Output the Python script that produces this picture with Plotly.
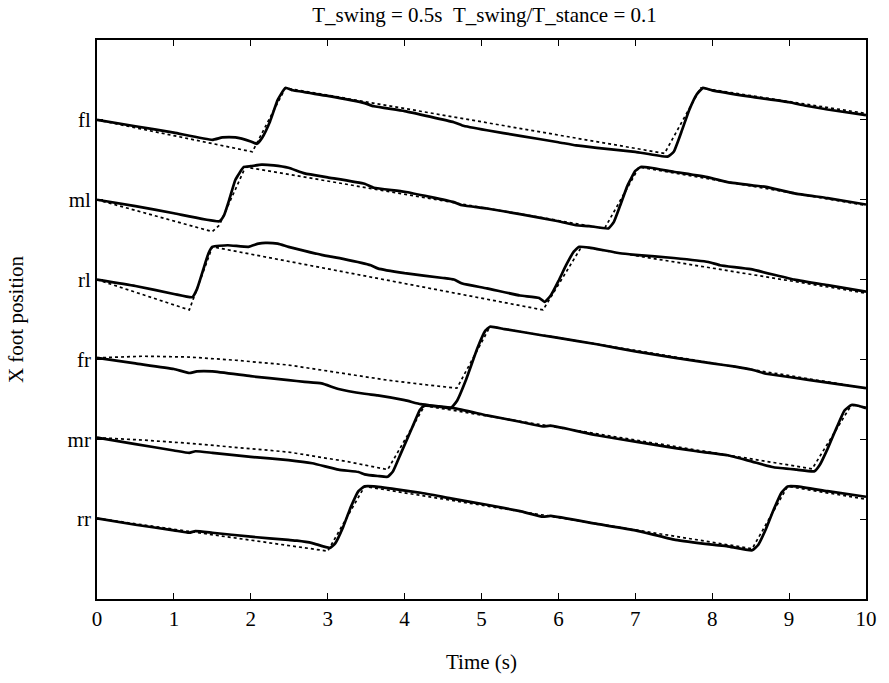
import plotly.graph_objects as go

# ---------------- data (time in s, X foot position in stacked units) ----------------
leg_names = ["fl", "ml", "rl", "fr", "mr", "rr"]
leg_levels = [6, 5, 4, 3, 2, 1]
x_ticks = [0, 1, 2, 3, 4, 5, 6, 7, 8, 9, 10]

# measured (solid) foot positions
fl_t = [0, 0.5, 1.0, 1.5, 1.63, 1.8, 2.0, 2.08, 2.15, 2.25, 2.35, 2.45, 2.55, 3.0, 3.48, 3.6, 4.0,
        4.64, 4.75, 5.07, 5.5, 6.0, 6.23, 6.5, 7.0, 7.42, 7.5, 7.6, 7.7, 7.8, 7.88, 8.0, 8.5, 9.0,
        9.2, 9.5, 10.0]
fl_v = [6.0, 5.92, 5.84, 5.75, 5.78, 5.78, 5.73, 5.70, 5.78, 5.98, 6.25, 6.40, 6.37, 6.30, 6.21,
        6.17, 6.11, 5.97, 5.93, 5.87, 5.80, 5.72, 5.68, 5.65, 5.60, 5.54, 5.60, 5.85, 6.12, 6.32,
        6.40, 6.37, 6.29, 6.22, 6.18, 6.13, 6.06]

ml_t = [0, 0.5, 1.0, 1.59, 1.65, 1.72, 1.8, 1.91, 2.0, 2.14, 2.3, 2.49, 2.7, 3.0, 3.48, 3.6, 4.0,
        4.64, 4.75, 5.07, 5.5, 6.0, 6.23, 6.4, 6.65, 6.72, 6.8, 6.9, 7.0, 7.07, 7.2, 7.5, 7.95,
        8.2, 8.52, 8.7, 9.07, 9.5, 10.0]
ml_v = [5.0, 4.92, 4.83, 4.73, 4.80, 5.0, 5.25, 5.41, 5.42, 5.44, 5.43, 5.40, 5.33, 5.28, 5.20,
        5.15, 5.10, 4.97, 4.93, 4.89, 4.82, 4.73, 4.68, 4.67, 4.64, 4.72, 4.92, 5.18, 5.36, 5.41,
        5.40, 5.35, 5.28, 5.22, 5.18, 5.16, 5.08, 5.02, 4.94]

rl_t = [0, 0.5, 1.0, 1.24, 1.3, 1.38, 1.45, 1.5, 1.7, 1.97, 2.1, 2.19, 2.35, 2.49, 2.7, 2.92, 3.2,
        3.56, 3.65, 4.0, 4.5, 4.64, 4.75, 5.07, 5.5, 5.75, 5.82, 5.9, 6.0, 6.1, 6.2, 6.27, 6.4,
        6.8, 7.0, 7.5, 7.95, 8.1, 8.5, 9.07, 9.5, 10.0]
rl_v = [4.0, 3.92, 3.82, 3.78, 3.88, 4.12, 4.33, 4.41, 4.43, 4.41, 4.45, 4.46, 4.45, 4.41, 4.36,
        4.31, 4.26, 4.18, 4.14, 4.08, 4.02, 4.0, 3.95, 3.89, 3.80, 3.77, 3.72, 3.80, 3.98, 4.18,
        4.35, 4.41, 4.40, 4.33, 4.31, 4.27, 4.22, 4.18, 4.13, 4.0, 3.93, 3.85]

fr_t = [0, 0.5, 1.0, 1.2, 1.3, 1.5, 2.0, 2.49, 2.7, 2.92, 3.14, 3.48, 3.65, 4.0, 4.21, 4.45, 4.6,
        4.68, 4.8, 4.95, 5.05, 5.11, 5.3, 5.8, 6.0, 6.5, 7.0, 7.52, 8.0, 8.3, 8.52, 8.7, 9.0, 9.5,
        10.0]
fr_v = [3.02, 2.95, 2.88, 2.83, 2.85, 2.85, 2.79, 2.74, 2.72, 2.70, 2.63, 2.57, 2.55, 2.49, 2.44,
        2.41, 2.39, 2.48, 2.75, 3.15, 3.36, 3.41, 3.38, 3.30, 3.27, 3.19, 3.10, 3.02, 2.95, 2.91,
        2.87, 2.82, 2.78, 2.71, 2.64]

mr_t = [0, 0.5, 1.0, 1.2, 1.28, 1.5, 2.0, 2.49, 2.8, 3.14, 3.4, 3.48, 3.65, 3.78, 3.85, 3.95, 4.1,
        4.2, 4.26, 4.64, 5.07, 5.5, 5.8, 5.9, 6.5, 7.0, 7.52, 7.8, 8.2, 8.52, 8.8, 9.1, 9.33, 9.4,
        9.5, 9.62, 9.72, 9.81, 9.9, 10.0]
mr_v = [2.02, 1.94, 1.86, 1.83, 1.85, 1.83, 1.78, 1.74, 1.70, 1.62, 1.59, 1.56, 1.54, 1.53, 1.60,
        1.82, 2.15, 2.37, 2.42, 2.39, 2.30, 2.22, 2.16, 2.17, 2.05, 1.97, 1.89, 1.85, 1.80, 1.72,
        1.65, 1.62, 1.60, 1.68, 1.88, 2.15, 2.36, 2.43, 2.42, 2.39]

rr_t = [0, 0.5, 1.0, 1.2, 1.28, 1.5, 2.0, 2.49, 2.6, 2.8, 3.03, 3.1, 3.2, 3.3, 3.4, 3.48, 3.6,
        4.21, 4.6, 5.07, 5.5, 5.8, 5.9, 6.5, 7.0, 7.52, 8.0, 8.2, 8.52, 8.6, 8.7, 8.8, 8.9, 8.98,
        9.1, 9.5, 10.0]
rr_v = [1.01, 0.93, 0.86, 0.83, 0.85, 0.83, 0.78, 0.74, 0.73, 0.70, 0.64, 0.70, 0.90, 1.15, 1.35,
        1.41, 1.41, 1.33, 1.26, 1.18, 1.10, 1.03, 1.04, 0.94, 0.86, 0.74, 0.68, 0.66, 0.61, 0.68,
        0.88, 1.12, 1.33, 1.41, 1.41, 1.35, 1.28]

# commanded (dotted) foot positions
fl_cmd_t = [0, 2.02, 2.45, 7.38, 7.85, 10.0]
fl_cmd_v = [6.0, 5.60, 6.40, 5.58, 6.40, 6.08]

ml_cmd_t = [0, 1.5, 1.59, 1.93, 6.6, 7.05, 10.0]
ml_cmd_v = [5.0, 4.60, 4.68, 5.41, 4.64, 5.41, 4.93]

rl_cmd_t = [0, 1.2, 1.5, 5.8, 6.3, 10.0]
rl_cmd_v = [4.0, 3.62, 4.41, 3.62, 4.41, 3.83]

fr_cmd_t = [0, 0.6, 1.2, 1.8, 2.49, 3.2, 3.78, 4.3, 4.68, 5.11, 10.0]
fr_cmd_v = [3.02, 3.04, 3.03, 2.99, 2.93, 2.83, 2.74, 2.68, 2.64, 3.41, 2.64]

mr_cmd_t = [0, 0.6, 1.2, 1.8, 2.49, 3.26, 3.78, 4.26, 9.3, 9.81, 10.0]
mr_cmd_v = [2.02, 1.99, 1.95, 1.90, 1.84, 1.72, 1.62, 2.42, 1.63, 2.43, 2.40]

rr_cmd_t = [0, 3.0, 3.48, 8.52, 8.98, 10.0]
rr_cmd_v = [1.01, 0.60, 1.41, 0.63, 1.41, 1.25]

solid = [(fl_t, fl_v), (ml_t, ml_v), (rl_t, rl_v), (fr_t, fr_v), (mr_t, mr_v), (rr_t, rr_v)]
dotted = [(fl_cmd_t, fl_cmd_v), (ml_cmd_t, ml_cmd_v), (rl_cmd_t, rl_cmd_v),
          (fr_cmd_t, fr_cmd_v), (mr_cmd_t, mr_cmd_v), (rr_cmd_t, rr_cmd_v)]

fig = go.Figure()
for name, (t, v) in zip(leg_names, dotted):
    fig.add_trace(go.Scatter(x=t, y=v, mode="lines", name=name + " cmd",
                             line=dict(color="black", width=1.7, dash="dot")))
for name, (t, v) in zip(leg_names, solid):
    fig.add_trace(go.Scatter(x=t, y=v, mode="lines", name=name,
                             line=dict(color="black", width=2.7, shape="spline", smoothing=0.4)))

FONT = "Liberation Serif"
fig.update_layout(
    width=889, height=683,
    margin=dict(l=97, r=17, t=40, b=84),
    plot_bgcolor="white", paper_bgcolor="white",
    showlegend=False,
    font=dict(family=FONT, color="black", size=21),
    title=dict(text="T_swing = 0.5s &nbsp;T_swing/T_stance = 0.1",
               x=0.545, xanchor="center", y=1 - 15 / 683, yanchor="middle",
               font=dict(family=FONT, size=21, color="black")),
    xaxis=dict(range=[0, 10], tickvals=x_ticks, ticktext=[str(v) for v in x_ticks],
               ticks="inside", ticklen=6, tickwidth=1.3, tickcolor="black",
               showline=True, linecolor="black", linewidth=1.7, mirror="ticks",
               showgrid=False, zeroline=False,
               tickfont=dict(family=FONT, size=21, color="black"),
               title=dict(text="Time (s)", standoff=24,
                          font=dict(family=FONT, size=21, color="black"))),
    yaxis=dict(range=[0, 7], tickvals=leg_levels, ticktext=leg_names,
               ticks="inside", ticklen=6, tickwidth=1.3, tickcolor="black",
               showline=True, linecolor="black", linewidth=1.7, mirror="ticks",
               showgrid=False, zeroline=False,
               tickfont=dict(family=FONT, size=21, color="black"),
               title=dict(text="X foot position", standoff=38,
                          font=dict(family=FONT, size=21, color="black"))),
)

fig.write_html("out.html")
